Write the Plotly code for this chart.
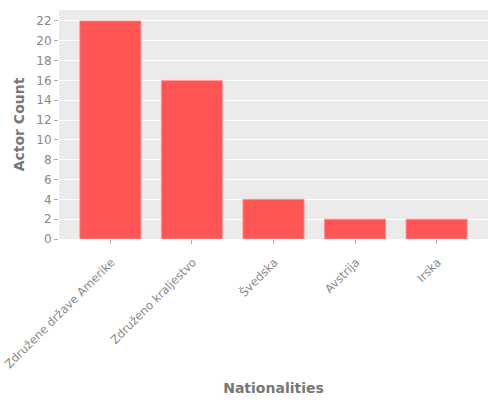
import plotly.graph_objects as go

nationalities = ["Združene države Amerike", "Združeno kraljestvo", "Švedska", "Avstrija", "Irska"]
actor_counts = [22, 16, 4, 2, 2]
y_ticks = list(range(0, 23, 2))

fig = go.Figure()
fig.add_trace(go.Bar(
    x=nationalities,
    y=actor_counts,
    width=0.75,
    marker=dict(color="#FF5555", line=dict(color="rgba(255,150,150,0.8)", width=1)),
))

fig.update_layout(
    width=500,
    height=400,
    margin=dict(l=59, r=12, t=10, b=161),
    paper_bgcolor="white",
    plot_bgcolor="#EBEBEB",
    font=dict(family="DejaVu Sans", size=12, color="#888888"),
    showlegend=False,
)
fig.update_xaxes(
    range=[-0.63, 4.63],
    tickangle=-45,
    ticks="outside",
    ticklen=4,
    tickcolor="#AAAAAA",
    tickfont=dict(size=11.6),
    ticklabelstandoff=7,
    ticklabelshift=1,
    showgrid=False,
    automargin=False,
    title=dict(text="<b>Nationalities</b>", font=dict(size=14, color="#777777"), standoff=13),
)
fig.update_yaxes(
    range=[0, 23.1],
    tickvals=y_ticks,
    ticks="outside",
    ticklen=4,
    tickcolor="#AAAAAA",
    gridcolor="white",
    gridwidth=1,
    zeroline=False,
    automargin=False,
    title=dict(text="<b>Actor Count</b>", font=dict(size=14, color="#777777"), standoff=8),
)

# drop the page's default body margin so the figure sits at the window corner
fig.write_html("out.html", config={"displayModeBar": False},
               post_script="document.body.style.margin = '0';")
